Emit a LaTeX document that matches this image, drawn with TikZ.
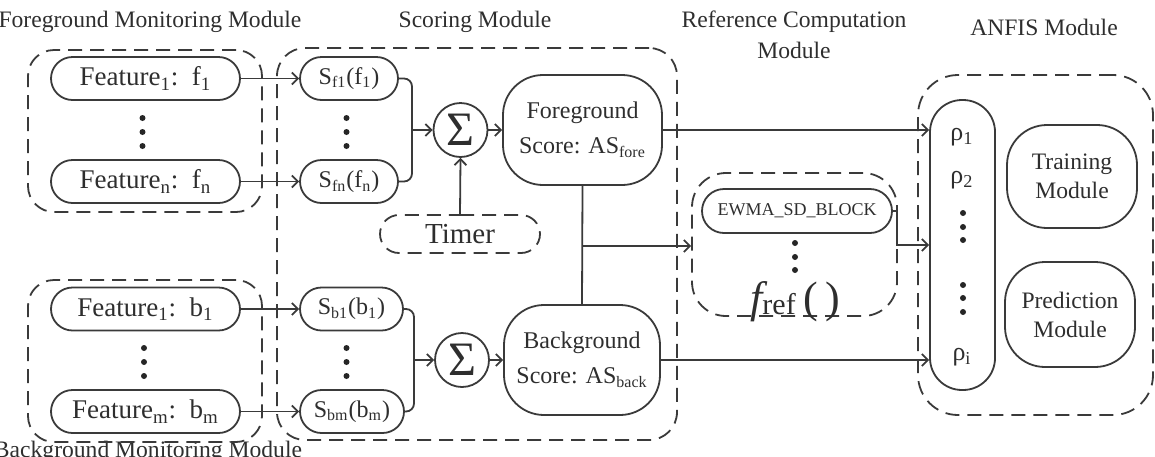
\documentclass[tikz,border=0pt]{standalone}
\usepackage{fontspec}
\setmainfont{Liberation Serif}
\usetikzlibrary{arrows.meta,shapes.misc}
\definecolor{lc}{HTML}{3A3A3A}
\definecolor{txt}{HTML}{2E2E2E}
\newcommand\fz[2]{\fontsize{#1pt}{#2pt}\selectfont}
\begin{document}
\begin{tikzpicture}[x=0.5pt,y=-0.5pt,
  every node/.style={text=txt},
  ln/.style={draw=lc, line width=0.9pt},
  arr/.style={draw=lc, line width=0.9pt, -{Straight Barb[length=3pt,width=6pt]}},
  caps/.style={draw=lc, line width=0.9pt, rounded rectangle, inner sep=0pt, font=\fz{13.5}{16}},
  sbox/.style={draw=lc, line width=0.9pt, rounded rectangle, inner sep=0pt, font=\fz{12}{14}, minimum height=21.5pt},
  modbox/.style={draw=lc, line width=0.9pt, dash pattern=on 7pt off 4pt, rounded corners=#1, inner sep=0pt},
  rbox/.style={draw=lc, line width=0.9pt, rounded corners=#1, inner sep=0pt, align=center},
  sumc/.style={draw=lc, line width=0.9pt, circle, inner sep=0pt, minimum size=27pt, font=\fz{24}{24}},
  dotn/.style={circle, fill=black!85, inner sep=0pt, minimum size=3pt},
  ttl/.style={font=\fz{11.8}{14}, align=center},
  rho/.style={font=\fz{13}{15}}
]
\useasboundingbox (0,0) rectangle (1155,456);

% titles
\node[ttl] (tfg) at (150,22) {Foreground Monitoring Module};
\node[ttl] (tsc) at (475,22) {Scoring Module};
\node[ttl] (trf) at (794,22) {Reference Computation};
\node[ttl] (trf2) at (794,50) {Module};
\node[ttl] (tan) at (1044,27) {ANFIS Module};
\node[ttl, anchor=base] (tbg) at (148,457) {Background Monitoring Module};

% module boxes
\node[modbox=13pt, minimum width=117pt, minimum height=81pt] (fgmod) at (145,131) {};
\node[modbox=13pt, minimum width=117pt, minimum height=81pt] (bgmod) at (145,361) {};
\node[modbox=14pt, minimum width=200pt, minimum height=196pt] (scmod) at (477,244) {};
\node[modbox=17pt, minimum width=102.5pt, minimum height=71.5pt] (refmod) at (794.5,244.5) {};
\node[modbox=20pt, minimum width=117.5pt, minimum height=170pt] (anfis) at (1035.5,245) {};

% feature nodes
\node[caps, minimum width=94.5pt, minimum height=21.5pt] (f1) at (145.5,78.5) {Feature\textsubscript{1}:~~f\textsubscript{1}};
\node[caps, minimum width=94.5pt, minimum height=21.5pt] (fn) at (145.5,181.5) {Feature\textsubscript{n}:~~f\textsubscript{n}};
\node[caps, minimum width=94.5pt, minimum height=21.5pt] (b1) at (145.5,309) {Feature\textsubscript{1}:~~b\textsubscript{1}};
\node[caps, minimum width=94.5pt, minimum height=21.5pt] (bm) at (145.5,411.5) {Feature\textsubscript{m}:~~b\textsubscript{m}};

% scoring nodes
\node[sbox, minimum width=49pt] (sf1) at (349,78.5) {S\textsubscript{f1}(f\textsubscript{1})};
\node[sbox, minimum width=49pt] (sfn) at (349,181.5) {S\textsubscript{fn}(f\textsubscript{n})};
\node[sbox, minimum width=51.5pt] (sb1) at (351.5,309) {S\textsubscript{b1}(b\textsubscript{1})};
\node[sbox, minimum width=52pt] (sbm) at (352,411.5) {S\textsubscript{bm}(b\textsubscript{m})};

% dots
\foreach \y [count=\i] in {118,132,146} {
  \node[dotn] (dfa\i) at (142.5,\y) {};
  \node[dotn] (dsa\i) at (346.5,\y) {};
}
\foreach \y [count=\i] in {348,362,376} {
  \node[dotn] (dfb\i) at (144,\y) {};
  \node[dotn] (dsb\i) at (346.5,\y) {};
}
\foreach \y [count=\i] in {243,257,270} {
  \node[dotn] (dr\i) at (795,\y) {};
}
\foreach \y [count=\i] in {213,227,240,285,298,312} {
  \node[dotn] (dp\i) at (963,\y) {};
}

% sums
\node[sumc] (sumf) at (460.5,130) {Σ};
\node[sumc] (sumb) at (462,360) {Σ};

% score boxes
\node[rbox=20pt, minimum width=79.5pt, minimum height=55pt, font=\fz{12}{17.5}] (fore) at (582.5,130) {Foreground\\Score: AS\textsubscript{fore}};
\node[rbox=20pt, minimum width=78pt, minimum height=55pt, font=\fz{12}{17.5}] (back) at (582,360) {Background\\Score: AS\textsubscript{back}};

% timer
\node[draw=lc, line width=0.9pt, dash pattern=on 7pt off 4pt, rounded rectangle, inner sep=0pt, minimum width=80pt, minimum height=19pt, font=\fz{14.5}{16}] (timer) at (460,234) {Timer};

% reference module content
\node[caps, minimum width=95pt, minimum height=22pt, font=\fz{9}{10}] (ewma) at (797,211) {EWMA\_SD\_BLOCK};
\node[inner sep=0pt, anchor=base] (fref) at (795,312) {{\fz{22}{22}\itshape f}{\fz{15}{15}\raisebox{-0.15ex}{ref}}{\fz{22}{22}\,(\,)}};

% ANFIS content
\node[rbox=16pt, minimum width=32.5pt, minimum height=145pt] (rhocol) at (962.5,245) {};
\node[rho] (r1) at (962,137) {ρ\textsubscript{1}};
\node[rho] (r2) at (962,180) {ρ\textsubscript{2}};
\node[rho] (ri) at (962,357) {ρ\textsubscript{i}};
\node[rbox=20pt, minimum width=65pt, minimum height=51.5pt, font=\fz{11.8}{14.5}] (train) at (1072,176.5) {Training\\Module};
\node[rbox=20pt, minimum width=65pt, minimum height=52.5pt, font=\fz{11.8}{14.5}] (pred) at (1070,314.5) {Prediction\\Module};

% connectors
\draw[arr] (f1.east) -- (sf1.west);
\draw[arr] (fn.east) -- (sfn.west);
\draw[arr] (b1.east) -- (sb1.west);
\draw[arr] (bm.east) -- (sbm.west);

\coordinate (brf) at (412,130);
\coordinate (brb) at (414,360);
\draw[ln, rounded corners=4pt] (sf1.east) -| (brf);
\draw[ln, rounded corners=4pt] (sfn.east) -| (brf);
\draw[arr] (brf) -- (sumf.west);
\draw[ln, rounded corners=4pt] (sb1.east) -| (brb);
\draw[ln, rounded corners=4pt] (sbm.east) -| (brb);
\draw[arr] (brb) -- (sumb.west);

\draw[arr] (sumf.east) -- (fore.west);
\draw[arr] (sumb.east) -- (back.west);
\draw[arr] (timer.north) -- (sumf.south);

\draw[ln] (fore.south) -- (back.north);
\coordinate (junc) at (582.5,246);
\draw[arr] (junc) -- (refmod.west |- junc);

\draw[arr] (fore.east) -- (rhocol.west |- fore.east);
\draw[arr] (back.east) -- (rhocol.west |- back.east);
\coordinate (ebend) at (897,211);
\draw[arr] (ewma.east) -- (ebend) |- (rhocol.west);
\end{tikzpicture}
\end{document}
